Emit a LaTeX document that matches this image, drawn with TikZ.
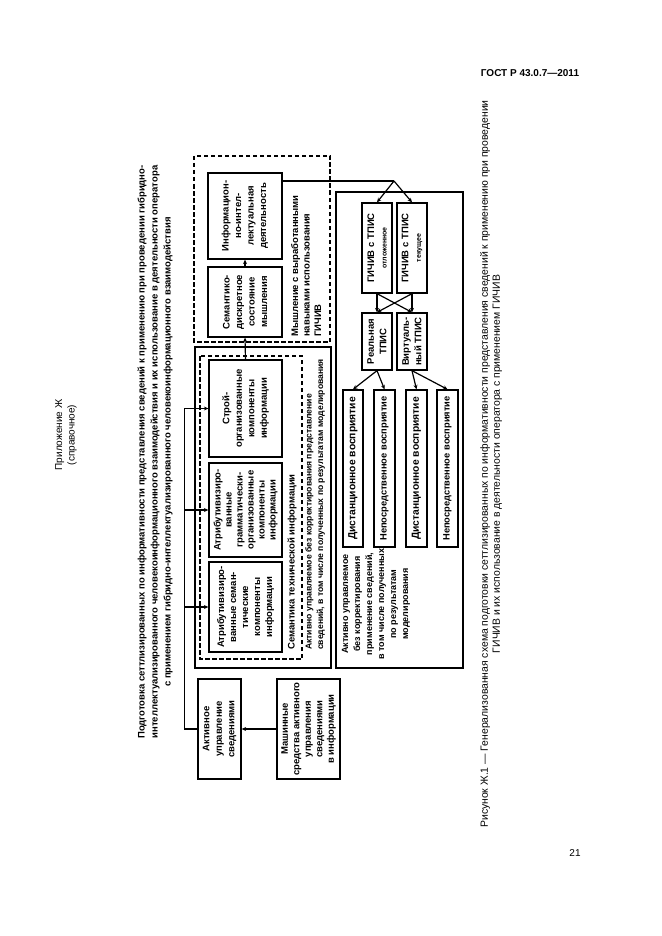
\documentclass[tikz,border=0pt]{standalone}
\usepackage{fontspec}
\setmainfont{Liberation Sans}
\usetikzlibrary{arrows.meta,positioning}

\begin{document}
\begin{tikzpicture}[x=1pt,y=-1pt,
  box/.style={draw, line width=1.3pt, rotate=90, align=center, inner sep=1pt,
    font=\fontsize{9.5}{12.5}\selectfont\bfseries},
  frame/.style={line width=1.4pt},
  dframe/.style={line width=1.3pt, dash pattern=on 4.5pt off 2.5pt},
  lbl/.style={rotate=90, inner sep=0pt, font=\fontsize{9.5}{11.5}\selectfont\bfseries},
  arr/.style={-{Stealth[length=4.5pt,width=4pt]}, line width=1.2pt},
  ln/.style={line width=1.2pt}]
\fill[white] (0,0) rectangle (661,936);
\useasboundingbox (0,0) rectangle (661,936);

% page furniture
\node[font=\fontsize{10}{12}\selectfont\bfseries] (gost) at (530,73) {ГОСТ Р 43.0.7—2011};
\node[font=\fontsize{10}{12}\selectfont] (pnum) at (575,853) {21};
\node[rotate=90, align=center, font=\fontsize{10}{12.5}\selectfont] (appx) at (66,435) {Приложение Ж\\(справочное)};
\node[rotate=90, align=center, font=\fontsize{9.5}{13}\selectfont\bfseries] (title) at (155,452)
  {Подготовка сеттлизированных по информативности представления сведений к применению при проведении гибридно-\\
   интеллектуализированного человекоинформационного взаимодействия и их использование в деятельности оператора\\
   с применением гибридно-интеллектуализированного человекоинформационного взаимодействия};
\node[rotate=90, align=center, font=\fontsize{10.4}{12}\selectfont] (caption) at (491,464)
  {Рисунок Ж.1 — Генерализованная схема подготовки сеттлизированных по информативности представления сведений к применению при проведении\\
   ГИЧИВ и их использование в деятельности оператора с применением ГИЧИВ};

% frames
\draw[dframe] (194,156) rectangle (330,342);
\draw[frame] (195,347) rectangle (331,668);
\draw[dframe] (200,356) rectangle (302,659);
\draw[frame] (336,192) rectangle (463,668);

% thinking
\node[box, minimum width=86pt, minimum height=74pt] (info) at (245,216) {Информацион-\\но-интел-\\лектуальная\\деятельность};
\node[box, minimum width=70pt, minimum height=74pt] (sem) at (245,302) {Семантико-\\дискретное\\состояние\\мышления};
\node[lbl, anchor=north west, align=left] (thinklab) at (291,337) {Мышление с выработанными\\навыками использования\\ГИЧИВ};

% semantics
\node[box, minimum width=97pt, minimum height=73pt] (stroi) at (245.5,408.5) {Строй-\\организованные\\компоненты\\информации};
\node[box, minimum width=94pt, minimum height=73pt, font=\fontsize{9.5}{11}\selectfont\bfseries] (attrG) at (245.5,510) {Атрибутивизиро-\\ванные\\грамматически-\\организованные\\компоненты\\информации};
\node[box, minimum width=90pt, minimum height=73pt, font=\fontsize{9.5}{12}\selectfont\bfseries] (attrL) at (245.5,607) {Атрибутивизиро-\\ванные семан-\\тические\\компоненты\\информации};
\node[lbl, anchor=west] (semlab) at (292,650) {Семантика технической информации};
\node[lbl, anchor=north west, align=left, font=\fontsize{8.6}{11.5}\selectfont\bfseries] (actlab) at (305,650) {Активно управляемое без корректирования представление\\сведений, в том числе полученных по результатам моделирования};

% active control
\node[box, minimum width=100pt, minimum height=43pt] (act) at (219.5,729) {Активное\\управление\\сведениями};
\node[box, minimum width=100pt, minimum height=63pt, font=\fontsize{9.5}{11.5}\selectfont\bfseries] (mach) at (308.5,729) {Машинные\\средства активного\\управления\\сведениями\\в информации};

% ГИЧИВ
\node[box, minimum width=90pt, minimum height=30pt] (gichA) at (377,248) {ГИЧИВ с ТПИС\\{\fontsize{7}{8}\selectfont отложенное}};
\node[box, minimum width=90pt, minimum height=30pt] (gichB) at (412,248) {ГИЧИВ с ТПИС\\{\fontsize{7}{8}\selectfont текущее}};
\node[box, minimum width=57pt, minimum height=30pt] (real) at (377,341.5) {Реальная\\ТПИС};
\node[box, minimum width=57pt, minimum height=30pt] (virt) at (412,341.5) {Виртуаль-\\ный ТПИС};
\node[box, minimum width=157pt, minimum height=20pt, font=\fontsize{10.3}{12}\selectfont\bfseries] (dist1) at (353,468.5) {Дистанционное восприятие};
\node[box, minimum width=157pt, minimum height=21pt, font=\fontsize{9.3}{12}\selectfont\bfseries] (dir1) at (384.5,468.5) {Непосредственное восприятие};
\node[box, minimum width=157pt, minimum height=21pt, font=\fontsize{10.3}{12}\selectfont\bfseries] (dist2) at (416.5,468.5) {Дистанционное восприятие};
\node[box, minimum width=157pt, minimum height=21pt, font=\fontsize{9.3}{12}\selectfont\bfseries] (dir2) at (447.5,468.5) {Непосредственное восприятие};
\node[lbl, align=center, font=\fontsize{9}{12}\selectfont\bfseries] (uselab) at (376,604) {Активно управляемое\\без корректирования\\применение сведений,\\в том числе полученных\\по результатам\\моделирования};

% connectors
\coordinate (apex) at (394,181);
\draw[ln] (apex -| info.south) -- (apex);
\draw[arr] (apex) -- (gichA.east);
\draw[arr] (apex) -- (gichB.east);
\draw[arr] (gichA.west) -- (real.east);
\draw[arr] (gichA.west) -- (virt.east);
\draw[arr] (gichB.west) -- (real.east);
\draw[arr] (gichB.west) -- (virt.east);
\draw[arr] (real.west) -- (dist1.east);
\draw[arr] (real.west) -- (dir1.east);
\draw[arr] (virt.west) -- (dist2.east);
\draw[arr] (virt.west) -- (dir2.east);
\draw[arr] (stroi.east) -- (sem.west);
\draw[arr] (sem.east) -- (info.west);
\draw[arr] (act.north) -- ++(-13,0) coordinate (fbb) |- (stroi.north);
\draw[arr] (fbb |- attrG.north) -- (attrG.north);
\draw[arr] (fbb |- attrL.north) -- (attrL.north);
\draw[arr] (mach.north) -- (act.south);
\end{tikzpicture}
\end{document}
